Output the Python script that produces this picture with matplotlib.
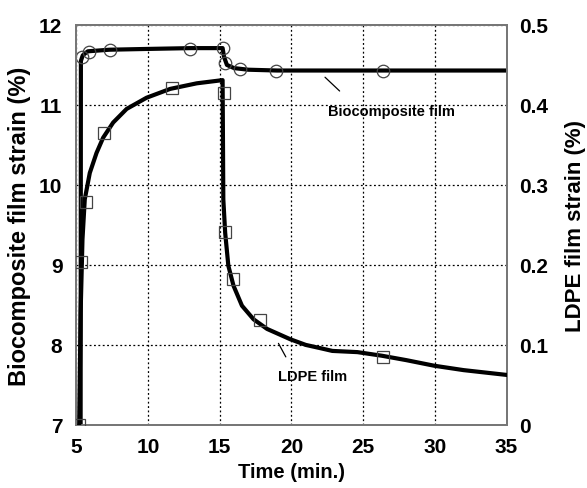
import matplotlib.pyplot as plt

plt.rcParams['font.family'] = ['Liberation Sans', 'DejaVu Sans']
plt.rcParams['font.weight'] = 'bold'

# Biocomposite film strain (%), left axis
bio_t = [5.3, 5.32, 5.45, 5.8, 7.3, 10.0, 13.0, 15.2, 15.3, 15.5, 16.0, 17.0, 19.0, 35.0]
bio_s = [7.0, 11.55, 11.62, 11.67, 11.69, 11.70, 11.71, 11.71, 11.6, 11.5, 11.46, 11.44, 11.43, 11.43]
bio_mt = [5.43, 5.9, 7.35, 12.95, 15.25, 15.4, 16.4, 18.9, 26.35]
bio_ms = [11.60, 11.66, 11.69, 11.70, 11.71, 11.53, 11.45, 11.43, 11.43]

# LDPE film strain (%), right axis
ldpe_t = [5.2, 5.3, 5.43, 5.59, 5.94, 6.41, 6.87, 7.57, 8.51, 9.9, 11.54, 13.4, 15.2,
          15.25, 15.38, 15.6, 15.96, 16.55, 17.36, 18.3, 19.93, 21.0, 22.0, 22.85, 24.6,
          26.3, 28.0, 29.95, 32.0, 35.0]
ldpe_s = [0.0, 0.14, 0.232, 0.282, 0.315, 0.34, 0.359, 0.378, 0.395, 0.409, 0.42, 0.427, 0.431,
          0.282, 0.24, 0.199, 0.174, 0.149, 0.132, 0.12, 0.107, 0.1, 0.096, 0.0925, 0.091,
          0.0865, 0.081, 0.074, 0.0685, 0.0625]
ldpe_mt = [5.2, 5.36, 5.71, 6.94, 11.66, 15.27, 15.38, 15.92, 17.78, 26.35]
ldpe_ms = [0.0, 0.204, 0.279, 0.365, 0.421, 0.415, 0.241, 0.183, 0.131, 0.0855]

fig = plt.figure(figsize=(5.87, 4.89), dpi=100)
ax = fig.add_axes([0.130, 0.129, 0.733, 0.818])
ax2 = ax.twinx()

ax.plot(bio_t, bio_s, color='black', lw=3, zorder=3, solid_joinstyle='round')
ax.plot(bio_mt, bio_ms, 'o', mfc='none', mec='#444444', ms=9, mew=0.9, zorder=4)
ax2.plot(ldpe_t, ldpe_s, color='black', lw=3, zorder=3, solid_joinstyle='round')
ax2.plot(ldpe_mt, ldpe_ms, 's', mfc='none', mec='#444444', ms=8, mew=0.9, zorder=4)

ax.set_xlim(5, 35)
ax.set_ylim(7, 12)
ax2.set_ylim(0, 0.5)
ax.set_xticks([5, 10, 15, 20, 25, 30, 35])
ax.set_yticks([7, 8, 9, 10, 11, 12])
ax2.set_yticks([0, 0.1, 0.2, 0.3, 0.4, 0.5])
ax2.set_yticklabels(['0', '0.1', '0.2', '0.3', '0.4', '0.5'])

ax.grid(True, color='black', linestyle=(0, (1.5, 2)), lw=0.9)
for a in (ax, ax2):
    a.tick_params(direction='in', length=0, labelsize=15)
    for sp in a.spines.values():
        sp.set_color('#777777')
        sp.set_linewidth(1.4)
ax.tick_params(axis='x', pad=9)
ax.tick_params(axis='y', pad=10)
ax2.tick_params(axis='y', pad=9)

ax.set_xlabel('Time (min.)', fontsize=14.5, fontweight='bold', labelpad=4)
ax.set_ylabel('Biocomposite film strain (%)', fontsize=17, fontweight='bold', labelpad=6)
ax2.set_ylabel('LDPE film strain (%)', fontsize=16, fontweight='bold', labelpad=12)

ax.annotate('', xy=(22.2, 11.37), xytext=(23.5, 11.15),
            arrowprops=dict(arrowstyle='-', color='black', lw=0.9))
ax.text(27.0, 10.92, 'Biocomposite film', fontsize=10.5, fontweight='bold', ha='center', va='center')
ax.annotate('', xy=(19.0, 8.05), xytext=(19.7, 7.82),
            arrowprops=dict(arrowstyle='-', color='black', lw=0.9))
ax.text(21.5, 7.61, 'LDPE film', fontsize=10.5, fontweight='bold', ha='center', va='center')

fig.savefig('out.png', dpi=100)
